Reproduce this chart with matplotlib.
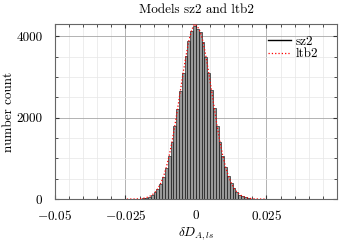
import matplotlib.pyplot as plt
import numpy as np

plt.rcParams['font.family'] = 'serif'
plt.rcParams['font.serif'] = ['cmr10', 'DejaVu Serif']
plt.rcParams['mathtext.fontset'] = 'cm'
plt.rcParams['axes.unicode_minus'] = False
plt.rcParams['axes.formatter.use_mathtext'] = True

# histogram bins (edges) and counts
bin_lo = -0.025
bin_hi = 0.025
nbins = 50

sz2 = [0, 0, 1, 2, 5, 11, 20, 36, 62, 101,
       163, 252, 379, 548, 772, 1050, 1392, 1785, 2210, 2660,
       3105, 3510, 3870, 4120, 4260, 4180, 4090, 3850, 3500, 3100,
       2670, 2225, 1795, 1405, 1065, 785, 560, 390, 262, 172,
       108, 67, 40, 24, 13, 7, 3, 1, 0, 0]

ltb2 = [0, 1, 2, 3, 6, 12, 22, 38, 65, 104,
        167, 258, 385, 555, 780, 1060, 1400, 1795, 2220, 2670,
        3115, 3525, 3890, 4150, 4300, 4240, 4110, 3870, 3520, 3115,
        2680, 2235, 1800, 1410, 1070, 790, 565, 395, 266, 176,
        112, 70, 43, 26, 15, 8, 4, 2, 1, 0]

xticks = [-0.05, -0.025, 0, 0.025]
xticklabels = ['$-0.05$', '$-0.025$', '$0$', '$0.025$']
yticks = [0, 2000, 4000]

edges = np.linspace(bin_lo, bin_hi, nbins + 1)
centers = 0.5 * (edges[:-1] + edges[1:])

fig = plt.figure(figsize=(3.39, 2.44), dpi=100)
ax = fig.add_axes([0.162, 0.184, 0.832, 0.718])

ax.bar(edges[:-1], sz2, width=np.diff(edges), align='edge',
       color='0.6', edgecolor='black', linewidth=0.4, zorder=2)
ax.plot([], [], color='black', lw=1, label='sz2')
ax.plot(centers, ltb2, color='red', ls=':', lw=0.9, label='ltb2', zorder=3)

ax.set_xlim(-0.05, 0.05)
ax.set_ylim(0, 4300)
ax.set_xticks(xticks)
ax.set_xticklabels(xticklabels)
ax.set_yticks(yticks)
ax.set_yticklabels([str(v) for v in yticks])
ax.set_xticks(np.arange(-0.05, 0.0501, 0.005), minor=True)
ax.set_yticks(np.arange(0, 4301, 500), minor=True)

ax.grid(which='major', color='0.65', lw=0.6, zorder=0)
ax.grid(which='minor', color='0.9', lw=0.5, zorder=0)
ax.set_axisbelow(True)
ax.tick_params(which='both', direction='in', top=True, right=True,
               labelsize=9.5, color='0.2')
ax.tick_params(which='major', length=3)
ax.tick_params(axis='x', which='major', pad=7)
ax.tick_params(axis='y', which='major', pad=9)
ax.tick_params(which='minor', length=2)
for s in ax.spines.values():
    s.set_color('0.4')
    s.set_linewidth(0.8)

ax.set_title('Models sz2 and ltb2', fontsize=9.5, pad=8)
ax.set_ylabel('number count', fontsize=9.5)
ax.yaxis.set_label_coords(-0.14, 0.5)
ax.set_xlabel(r'$\delta D_{A,ls}$', fontsize=9.5, labelpad=2)
ax.legend(loc='upper right', frameon=False, fontsize=9.5, handlelength=1.8,
          borderaxespad=0.2, labelspacing=0.05, handletextpad=0.3,
          bbox_to_anchor=(0.96, 0.98))

fig.savefig('out.png', dpi=100)
